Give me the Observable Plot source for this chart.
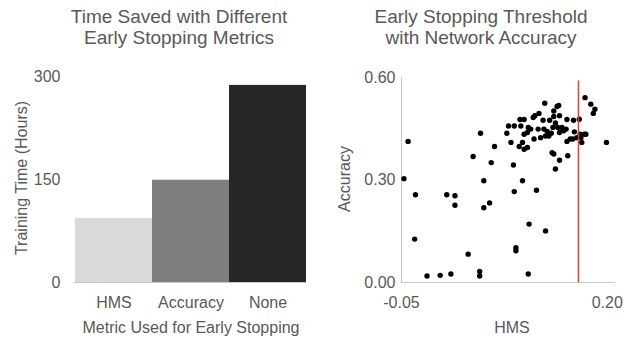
<!DOCTYPE html>
<html>
<head>
<meta charset="utf-8">
<script src="https://cdn.jsdelivr.net/npm/d3@7"></script>
<script src="https://cdn.jsdelivr.net/npm/@observablehq/plot@0.6"></script>
<style>
  html, body { margin: 0; padding: 0; background: #fff; }
  #root { position: relative; width: 629px; height: 339px; overflow: hidden;
          font-family: "Liberation Sans", Arial, sans-serif; color: #595959; }
  .abs { position: absolute; white-space: nowrap; }
  .title { font-size: 19px; line-height: 21px; text-align: center; transform: translateX(-50%); }
  .alabel { font-size: 16px; line-height: 18px; transform: translate(-50%, -50%); }
  .ylabel { font-size: 16px; line-height: 18px; transform: translate(-50%, -50%) rotate(-90deg); }
</style>
</head>
<body>
<div id="root"></div>
<script>
// ---- Data: left chart (bar) ----
const metrics = ["HMS", "Accuracy", "None"];
const trainingHours = [93, 149, 287];
const barTicks = [0, 150, 300];

// ---- Data: right chart (scatter) ----
const hms = [-0.047,-0.042,-0.033,-0.034,-0.019,-0.003,0.010,0.005,0.015,0.015,
  0.031,0.037,0.045,0.045,0.046,0.050,0.050,0.057,0.059,0.063,
  0.078,0.080,0.083,0.086,0.087,0.089,0.089,0.087,0.094,0.095,
  0.097,0.093,0.097,0.099,0.099,0.099,0.103,0.104,0.105,0.103,
  0.104,0.107,0.110,0.112,0.114,0.111,0.116,0.117,0.119,0.122,
  0.124,0.123,0.125,0.125,0.127,0.129,0.130,0.132,0.134,0.135,
  0.135,0.133,0.135,0.137,0.137,0.139,0.141,0.142,0.140,0.142,
  0.142,0.145,0.147,0.150,0.151,0.151,0.152,0.155,0.158,0.159,
  0.160,0.163,0.166,0.167,0.168,0.169,0.173,0.172,0.174,0.180,
  0.185,0.183,0.199];
const accuracy = [0.304,0.413,0.257,0.127,0.019,0.021,0.025,0.257,0.254,0.226,
  0.083,0.369,0.032,0.019,0.437,0.298,0.219,0.233,0.351,0.398,
  0.437,0.458,0.410,0.344,0.266,0.102,0.093,0.458,0.477,0.458,
  0.298,0.398,0.410,0.390,0.477,0.434,0.395,0.025,0.171,0.439,
  0.454,0.449,0.483,0.488,0.270,0.420,0.449,0.495,0.424,0.475,
  0.525,0.449,0.151,0.429,0.442,0.429,0.475,0.437,0.454,0.502,
  0.486,0.380,0.376,0.332,0.467,0.515,0.518,0.488,0.454,0.439,
  0.358,0.454,0.444,0.449,0.477,0.413,0.371,0.420,0.420,0.475,
  0.441,0.424,0.478,0.434,0.424,0.410,0.541,0.434,0.434,0.522,
  0.507,0.495,0.410];
const threshold = [0.165];
const hmsTicks = [-0.05, 0.20];
const accTicks = [0, 0.30, 0.60];

// ---- Styles ----
const barColors = ["#d9d9d9", "#7f7f7f", "#262626"];
const textColor = "#595959";
const axisColor = "#c8c8c8";
const fontStyle = {fontFamily: '"Liberation Sans", Arial, sans-serif', fontSize: "16px", color: textColor, background: "transparent", overflow: "visible"};
const fmt2 = d => d.toFixed(2);

const root = document.getElementById("root");

function addText(cls, text, left, top) {
  const d = document.createElement("div");
  d.className = "abs " + cls;
  d.innerHTML = text;
  d.style.left = left + "px";
  d.style.top = top + "px";
  root.appendChild(d);
}

// ---- Left chart ----
const barData = metrics.map((m, i) => ({metric: m, hours: trainingHours[i]}));
const bar = Plot.plot({
  width: 320, height: 279,
  marginTop: 16, marginBottom: 57, marginLeft: 74, marginRight: 14,
  style: fontStyle,
  x: {domain: metrics, padding: 0, label: null, tickSize: 0, tickPadding: 14},
  y: {domain: [0, 300], ticks: barTicks, label: null, tickSize: 0, tickPadding: 14},
  color: {domain: metrics, range: barColors},
  marks: [
    Plot.barY(barData, {x: "metric", y: "hours", fill: "metric", inset: 0}),
    Plot.ruleY([0], {stroke: axisColor, strokeWidth: 1})
  ]
});
bar.style.position = "absolute";
bar.style.left = "0px";
bar.style.top = "60px";
root.appendChild(bar);

// ---- Right chart ----
const pts = hms.map((h, i) => ({hms: h, acc: accuracy[i]}));
const scatter = Plot.plot({
  width: 309, height: 279,
  marginTop: 17, marginBottom: 57, marginLeft: 81, marginRight: 14,
  style: fontStyle,
  x: {domain: [-0.05, 0.21], ticks: hmsTicks, tickFormat: fmt2, label: null, tickSize: 0, tickPadding: 14},
  y: {domain: [0, 0.6], ticks: accTicks, tickFormat: fmt2, label: null, tickSize: 0, tickPadding: 6},
  marks: [
    Plot.ruleY([0], {stroke: axisColor, strokeWidth: 1}),
    Plot.ruleX([-0.05], {stroke: axisColor, strokeWidth: 1}),
    Plot.dot(pts, {x: "hms", y: "acc", r: 2.7, fill: "#000", stroke: null}),
    Plot.ruleX(threshold, {y1: 0, y2: 0.59, stroke: "#f23a3a", strokeWidth: 1.5})
  ]
});
scatter.style.position = "absolute";
scatter.style.left = "320px";
scatter.style.top = "60px";
root.appendChild(scatter);

// ---- Titles and axis labels ----
addText("title", "Time Saved with Different<br>Early Stopping Metrics", 179, 6);
addText("title", "Early Stopping Threshold<br>with Network Accuracy", 481, 6);
addText("alabel", "Metric Used for Early Stopping", 191, 328);
addText("ylabel", "Training Time (Hours)", 22, 178);
addText("alabel", "HMS", 512, 328);
addText("ylabel", "Accuracy", 345, 179);
</script>
</body>
</html>
